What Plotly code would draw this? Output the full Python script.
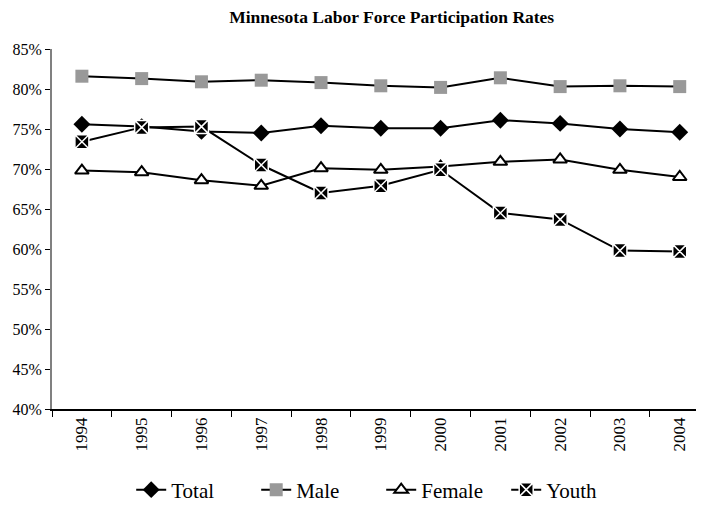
import plotly.graph_objects as go

years = ["1994", "1995", "1996", "1997", "1998", "1999", "2000", "2001", "2002", "2003", "2004"]
total = [75.6, 75.3, 74.7, 74.5, 75.4, 75.1, 75.1, 76.1, 75.7, 75.0, 74.6]
male = [81.6, 81.3, 80.9, 81.1, 80.8, 80.4, 80.2, 81.4, 80.3, 80.4, 80.3]
female = [69.8, 69.6, 68.6, 67.9, 70.1, 69.9, 70.3, 70.9, 71.2, 69.9, 69.0]
youth = [73.4, 75.2, 75.3, 70.5, 67.0, 67.9, 69.9, 64.5, 63.7, 59.8, 59.7]

font = "Liberation Serif"
fig = go.Figure()
fig.add_trace(go.Scatter(x=years, y=total, name="Total", mode="lines+markers",
                         line=dict(color="black", width=2),
                         marker=dict(symbol="diamond", size=13, color="black")))
fig.add_trace(go.Scatter(x=years, y=male, name="Male", mode="lines+markers",
                         line=dict(color="black", width=2),
                         marker=dict(symbol="square", size=13, color="#999999")))
fig.add_trace(go.Scatter(x=years, y=female, name="Female", mode="lines+markers",
                         line=dict(color="black", width=2),
                         marker=dict(symbol="triangle-up", size=12, color="white",
                                     line=dict(color="black", width=2))))
fig.add_trace(go.Scatter(x=years, y=youth, name="Youth", mode="lines+markers",
                         line=dict(color="black", width=2),
                         marker=dict(symbol="square-x", size=14, color="black",
                                     line=dict(color="white", width=1.5))))

# page body has an 8px margin; offsets below compensate for it
fig.update_layout(
    width=704, height=515,
    margin=dict(l=44, r=0, t=41, b=114),
    paper_bgcolor="white", plot_bgcolor="white",
    font=dict(family=font, size=16, color="black"),
    title=dict(text="<b>Minnesota Labor Force Participation Rates</b>", x=0.545, xanchor="center",
               y=0.983, yanchor="middle", font=dict(family=font, size=17.5)),
    showlegend=True,
    legend=dict(orientation="h", x=0.12, xanchor="left", y=-0.225, yanchor="middle",
                font=dict(family=font, size=21), tracegroupgap=0,
                entrywidth=80, entrywidthmode="pixels"),
)
fig.update_xaxes(type="category", range=[-0.5, 10.54], tickson="boundaries",
                 showline=True, linecolor="black", linewidth=1.5,
                 ticks="outside", ticklen=6, tickcolor="black", tickwidth=1,
                 tickangle=-90, showgrid=False, zeroline=False,
                 tickfont=dict(family=font, size=17))
fig.update_yaxes(range=[40, 85], dtick=5, ticksuffix="%",
                 showline=True, linecolor="#808080", linewidth=2,
                 ticks="outside", ticklen=5, tickcolor="black", tickwidth=1,
                 showgrid=False, zeroline=False,
                 tickfont=dict(family=font, size=16))

fig.write_html("out.html")
